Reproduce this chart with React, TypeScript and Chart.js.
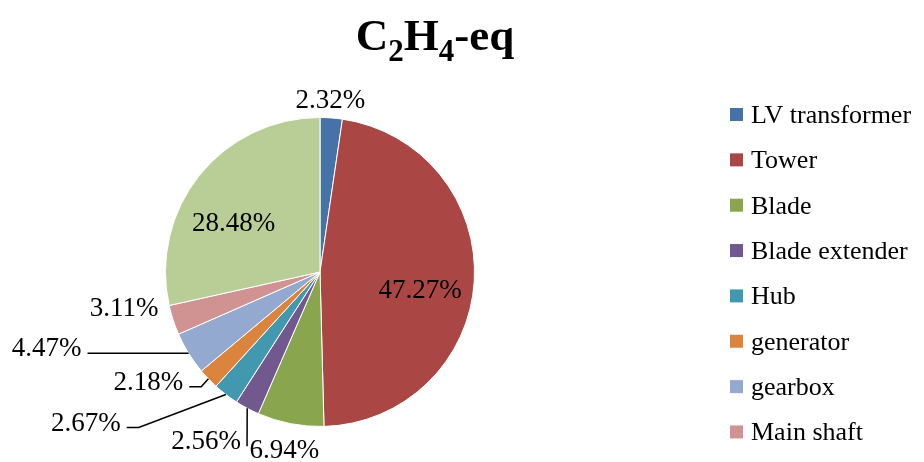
import { useEffect, useRef } from "react";
import { Chart, ArcElement, DoughnutController, PieController } from "chart.js";

Chart.register(ArcElement, DoughnutController, PieController);

// Share of the C2H4-eq impact per turbine component (%)
const components = [
  "LV transformer",
  "Tower",
  "Blade",
  "Blade extender",
  "Hub",
  "generator",
  "gearbox",
  "Main shaft",
  "Foundation",
];
const shares = [2.32, 47.27, 6.94, 2.56, 2.67, 2.18, 4.47, 3.11, 28.48];
const sliceColors = [
  "#4572A7",
  "#AA4643",
  "#89A54E",
  "#71588F",
  "#4198AF",
  "#DB843D",
  "#93A9CF",
  "#D19392",
  "#B9CD96",
];
// Only the first entries fit in the legend column
const legendEntries = 8;

const SERIF = '"Liberation Serif", "Times New Roman", serif';

// Label placement: inside labels are offset from a point at 65% of the radius,
// outside labels from the rim point at the slice's mid-angle. Leader labels get
// a connector from the text to the rim, with an optional horizontal elbow.
type Placement = { inside?: boolean; dx: number; dy: number; leader?: boolean; elbow?: number };
const labelPlacement: Placement[] = [
  { dx: -1, dy: -19 },
  { inside: true, dx: 0, dy: 11 },
  { dx: -6, dy: 25 },
  { dx: -41, dy: 32, leader: true, elbow: 0 },
  { dx: -140, dy: 27, leader: true, elbow: 12 },
  { dx: -60, dy: 2, leader: true, elbow: 12 },
  { dx: -142, dy: -6, leader: true, elbow: 0 },
  { dx: -49, dy: -13 },
  { inside: true, dx: -8, dy: 13 },
];

const percentLabels = {
  id: "percentLabels",
  afterDatasetsDraw(chart: any) {
    const ctx = chart.ctx as CanvasRenderingContext2D;
    const meta = chart.getDatasetMeta(0);
    ctx.save();
    ctx.font = `27px ${SERIF}`;
    ctx.fillStyle = "#000";
    ctx.strokeStyle = "#000";
    ctx.lineWidth = 1.5;
    ctx.textAlign = "center";
    ctx.textBaseline = "alphabetic";
    meta.data.forEach((arc: any, i: number) => {
      const { x, y, startAngle, endAngle, outerRadius } = arc.getProps(
        ["x", "y", "startAngle", "endAngle", "outerRadius"],
        true
      );
      const mid = (startAngle + endAngle) / 2;
      const p = labelPlacement[i];
      const r = p.inside ? outerRadius * 0.65 : outerRadius;
      const ax = x + Math.cos(mid) * r;
      const ay = y + Math.sin(mid) * r;
      const cx = ax + p.dx;
      const cy = ay + p.dy;
      const text = shares[i].toFixed(2) + "%";
      ctx.fillText(text, cx, cy + 9);
      if (p.leader) {
        const w = ctx.measureText(text).width;
        const sx = cx + w / 2 + 6;
        const sy = cy + 6;
        ctx.beginPath();
        ctx.moveTo(sx, sy);
        ctx.lineTo(sx + (p.elbow || 0), sy);
        ctx.lineTo(ax, ay);
        ctx.stroke();
      }
    });
    ctx.restore();
  },
};

// Chemical-formula title with subscripts
const titleParts = [
  { t: "C", sub: false },
  { t: "2", sub: true },
  { t: "H", sub: false },
  { t: "4", sub: true },
  { t: "-eq", sub: false },
];

const formulaTitle = {
  id: "formulaTitle",
  afterDraw(chart: any) {
    const ctx = chart.ctx as CanvasRenderingContext2D;
    const mainFont = `bold 45px ${SERIF}`;
    const subFont = `bold 31px ${SERIF}`;
    ctx.save();
    ctx.fillStyle = "#000";
    ctx.textAlign = "left";
    ctx.textBaseline = "alphabetic";
    let total = 0;
    const widths = titleParts.map((p) => {
      ctx.font = p.sub ? subFont : mainFont;
      const w = ctx.measureText(p.t).width;
      total += w;
      return w;
    });
    let x = 435 - total / 2;
    titleParts.forEach((p, i) => {
      ctx.font = p.sub ? subFont : mainFont;
      ctx.fillText(p.t, x, p.sub ? 61 : 50);
      x += widths[i];
    });
    ctx.restore();
  },
};

const sideLegend = {
  id: "sideLegend",
  afterDraw(chart: any) {
    const ctx = chart.ctx as CanvasRenderingContext2D;
    const labels = chart.data.labels as string[];
    const colors = chart.data.datasets[0].backgroundColor as string[];
    ctx.save();
    ctx.font = `26px ${SERIF}`;
    ctx.textAlign = "left";
    ctx.textBaseline = "alphabetic";
    for (let i = 0; i < legendEntries; i++) {
      const cy = 114.5 + i * 45.35;
      ctx.fillStyle = colors[i];
      ctx.fillRect(730, cy - 6.5, 13, 13);
      ctx.fillStyle = "#000";
      ctx.fillText(labels[i], 751, cy + 8.5);
    }
    ctx.restore();
  },
};

export default function App() {
  const canvasRef = useRef<HTMLCanvasElement | null>(null);

  useEffect(() => {
    if (!canvasRef.current) return;
    const chart = new Chart(canvasRef.current, {
      type: "pie",
      data: {
        labels: components,
        datasets: [
          {
            data: shares,
            backgroundColor: sliceColors,
            borderColor: "#ffffff",
            borderWidth: 1,
          },
        ],
      },
      options: {
        animation: false,
        responsive: true,
        maintainAspectRatio: false,
        layout: { padding: { top: 117, bottom: 35, left: 165, right: 449 } },
        plugins: {
          legend: { display: false },
          title: { display: false },
          tooltip: { enabled: false },
        },
      },
      plugins: [percentLabels, formulaTitle, sideLegend],
    });
    return () => chart.destroy();
  }, []);

  return (
    <div
      style={{
        position: "fixed",
        left: 0,
        top: 0,
        width: 924,
        height: 462,
        background: "#fff",
      }}
    >
      <canvas ref={canvasRef} />
    </div>
  );
}
